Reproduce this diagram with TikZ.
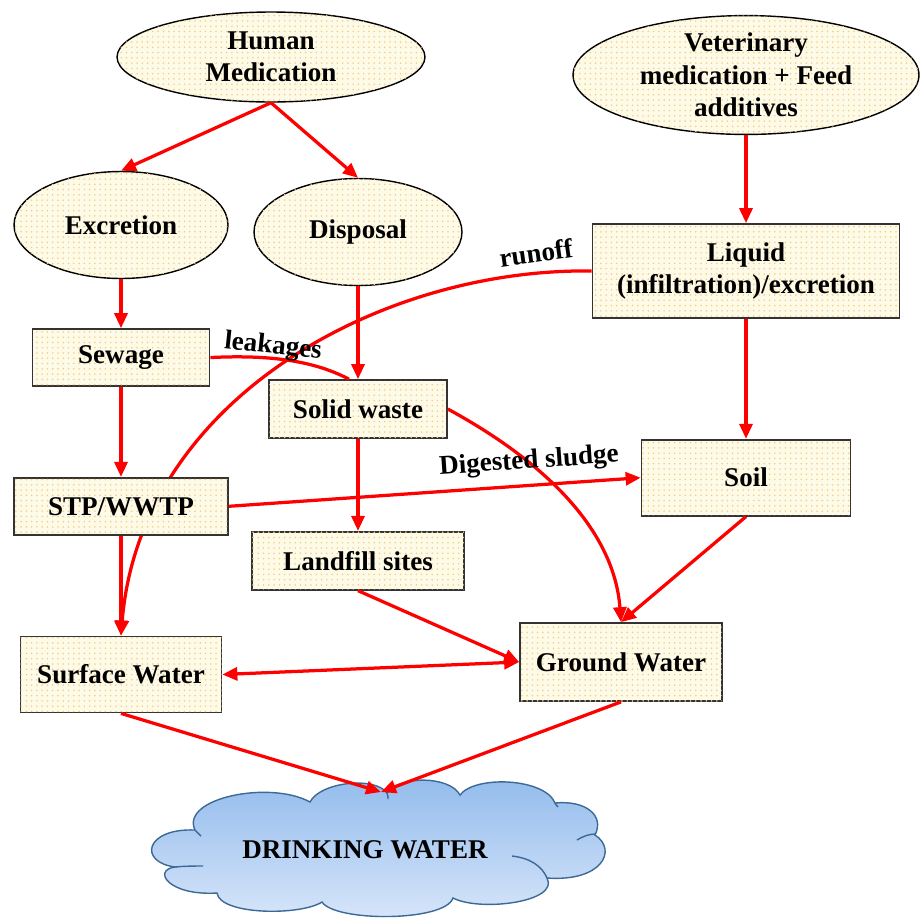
\documentclass[tikz,border=0pt]{standalone}
\usepackage{fontspec}
\setmainfont{Liberation Serif}
\usetikzlibrary{arrows.meta,positioning,shapes.geometric,patterns,backgrounds}

\definecolor{cream}{RGB}{254,250,232}
\definecolor{dotcol}{RGB}{246,205,130}
\definecolor{cloudline}{RGB}{60,105,150}
\definecolor{skytop}{RGB}{146,187,236}
\definecolor{skybot}{RGB}{216,230,250}
\newcommand{\lblfont}{\fontsize{15.4}{18.5}\selectfont\bfseries}

\begin{document}
\begin{tikzpicture}[x=0.02cm, y=-0.02cm,
  src/.style={draw, ellipse, inner sep=0pt, align=center, fill=cream, postaction={pattern=dots, pattern color=dotcol}, font=\lblfont, line width=0.8pt},
  box/.style={draw=black!80, rectangle, inner sep=0pt, align=center, fill=cream, postaction={pattern=dots, pattern color=dotcol}, font=\lblfont, line width=1pt},
  note/.style={font=\lblfont, inner sep=1pt},
  arr/.style={-{Triangle[length=0.3cm, width=0.26cm]}, red, line width=0.065cm},
  sky/.style={draw=cloudline, line width=0.8pt, top color=skytop, bottom color=skybot},
  curl/.style={draw=cloudline, line width=0.8pt}
]
\useasboundingbox (0,0) rectangle (922,917);

% sources
\node[src, minimum width=6.16cm, minimum height=1.8cm] (human) at (271,57) {Human\\Medication};
\node[src, minimum width=4.28cm, minimum height=2.14cm] (excr) at (121,225) {Excretion};
\node[src, minimum width=4.16cm, minimum height=2.14cm] (disp) at (358,232) {Disposal};
\node[src, minimum width=6.92cm, minimum height=2.2cm] (vet) at (746,75) {Veterinary\\medication + Feed\\additives};

% boxes
\node[box, minimum width=3.54cm, minimum height=1.14cm, below=0.98cm of excr] (sewage) {Sewage};
\node[box, minimum width=4.28cm, minimum height=1.14cm, below=1.8cm of sewage] (stp) {STP/WWTP};
\node[box, minimum width=4.02cm, minimum height=1.52cm, below=2.0cm of stp] (surf) {Surface Water};
\node[box, minimum width=3.56cm, minimum height=1.16cm, below=1.86cm of disp] (solid) {Solid waste};
\node[box, minimum width=4.24cm, minimum height=1.16cm, below=1.84cm of solid] (land) {Landfill sites};
\node[box, minimum width=6.14cm, minimum height=1.88cm, below=1.76cm of vet] (liquid) {Liquid\\(infiltration)/excretion};
\node[box, minimum width=4.18cm, minimum height=1.52cm, below=2.4cm of liquid] (soil) {Soil};
\node[box, minimum width=4.04cm, minimum height=1.56cm] (ground) at (621,662) {Ground Water};

% drinking water cloud
\path[sky] (195,830) .. controls (180,798) and (270,780) .. (310,802)
  .. controls (320,782) and (375,776) .. (387,793)
  .. controls (400,775) and (450,776) .. (460,795)
  .. controls (475,775) and (545,778) .. (555,803)
  .. controls (585,800) and (605,815) .. (595,835)
  .. controls (618,850) and (602,882) .. (547,878)
  .. controls (560,902) and (480,912) .. (453,898)
  .. controls (445,922) and (335,922) .. (322,902)
  .. controls (300,916) and (220,915) .. (217,893)
  .. controls (168,896) and (152,870) .. (175,867)
  .. controls (138,862) and (145,828) .. cycle;
\draw[curl] (512,856) .. controls (530,858) and (542,866) .. (547,878);
\draw[curl] (577,840) .. controls (583,836) and (590,834) .. (595,834);
\draw[curl] (175,867) .. controls (185,866) and (195,866) .. (203,866);
\draw[curl] (195,830) .. controls (197,832) and (199,834) .. (201,836);
\draw[curl] (387,793) .. controls (388,795) and (388,797) .. (388,799);
\draw[curl] (555,803) .. controls (556,805) and (557,806) .. (558,807);
\node[note] (drink) at (365,850) {DRINKING WATER};
\coordinate (dtop) at (381,792);

% flows
\draw[arr] (human.south) -- (excr.north);
\draw[arr] (human.south) -- (disp.north);
\draw[arr] (vet) -- (liquid);
\draw[arr] (excr) -- (sewage);
\draw[arr] (disp) -- (solid);
\draw[arr] (sewage) -- (stp);
\draw[arr] (stp) -- (surf);
\draw[arr] (solid) -- (land);
\draw[arr] (liquid) -- (soil);
\draw[arr] (stp.east) -- (soil.west);
\draw[arr] (soil.south) -- (ground.north);
\draw[arr] (land.south) -- (ground.west);
\draw[arr] (solid.east) .. controls (560,470) and (615,540) .. (ground.north);
\draw[arr, {Triangle[length=0.3cm, width=0.26cm]}-{Triangle[length=0.3cm, width=0.26cm]}] (surf.east) -- (ground.west);
\draw[arr] (surf.south) -- (dtop);
\draw[arr] (ground.south) -- (dtop);
\draw[red, line width=0.065cm] (sewage.east) .. controls (280,354) and (320,364) .. ([xshift=-0.18cm]solid.north);
\begin{scope}[on background layer]
  \draw[arr] (liquid.west) .. controls (380,268) and (140,400) .. (surf.north);
\end{scope}

% labels
\node[note, rotate=-6] (leak) at (273,347) {leakages};
\node[note, rotate=8] (run) at (536,253) {runoff};
\node[note, rotate=4] (sludge) at (529,462) {Digested sludge};

\end{tikzpicture}
\end{document}
